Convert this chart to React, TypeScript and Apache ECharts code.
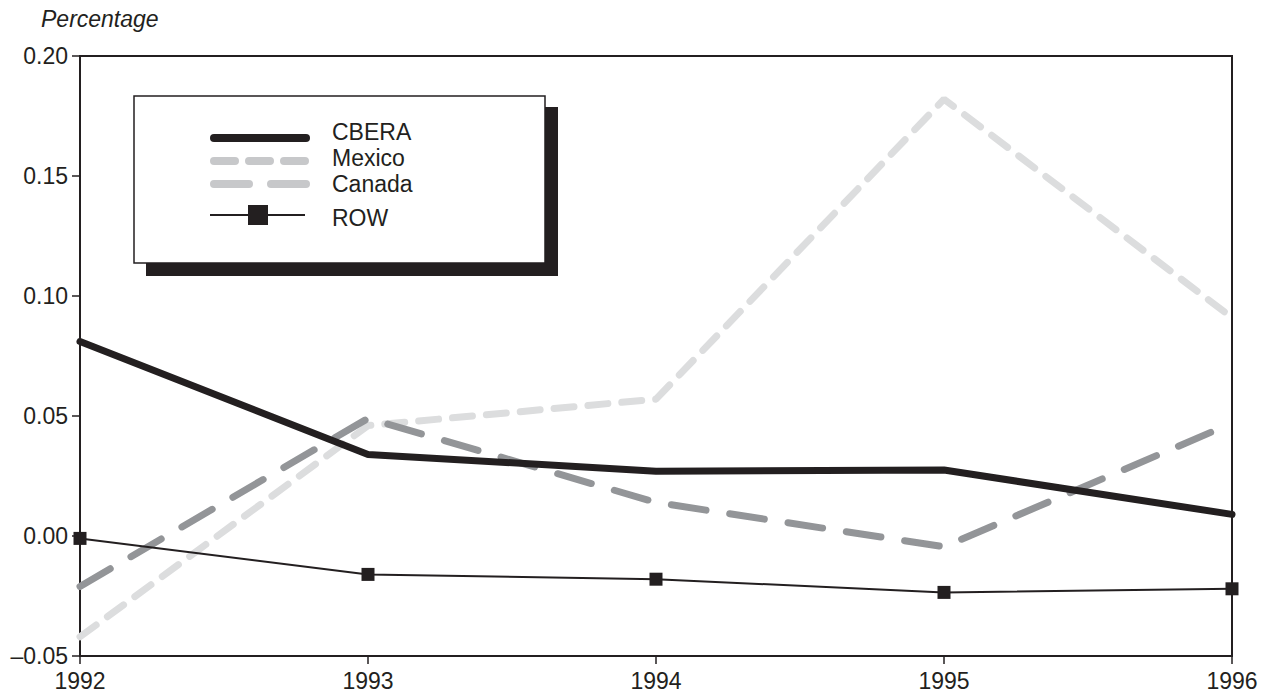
import React, { useEffect, useRef } from "react";
import * as echarts from "echarts";

const years = ["1992", "1993", "1994", "1995", "1996"];
const cbera = [0.081, 0.034, 0.027, 0.0275, 0.009];
const mexico = [-0.042, 0.046, 0.057, 0.182, 0.091];
const canada = [-0.021, 0.049, 0.014, -0.0045, 0.047];
const row = [-0.001, -0.016, -0.018, -0.0235, -0.022];
const yTicks = { min: -0.05, max: 0.2, interval: 0.05 };

const FONT = "'Liberation Sans', Arial, Helvetica, sans-serif";
const INK = "#231f20";
const LIGHT = "#dcddde";
const DARK = "#939598";
const LEG_GRAY = "#c7c8ca";
const FS = 23;

export default function App() {
  const ref = useRef<HTMLDivElement>(null);
  useEffect(() => {
    if (!ref.current) return;
    const chart = echarts.init(ref.current, undefined, { renderer: "svg" });
    const legendItems = [
      { name: "CBERA", ty: 132 },
      { name: "Mexico", ty: 158 },
      { name: "Canada", ty: 183.5 },
      { name: "ROW", ty: 218 },
    ];
    const graphic: any[] = [
      {
        type: "text",
        left: 41,
        top: 7,
        style: { text: "Percentage", font: `italic ${FS}px ${FONT}`, fill: INK },
      },
      { type: "rect", shape: { x: 146, y: 107, width: 412, height: 169 }, style: { fill: INK }, z: 10 },
      {
        type: "rect",
        shape: { x: 134, y: 96, width: 411, height: 167 },
        style: { fill: "#fff", stroke: INK, lineWidth: 1.5 },
        z: 11,
      },
      {
        type: "line",
        shape: { x1: 214, y1: 138, x2: 306, y2: 138 },
        style: { stroke: INK, lineWidth: 8, lineCap: "round" },
        z: 12,
      },
      {
        type: "line",
        shape: { x1: 214, y1: 161, x2: 306, y2: 161 },
        style: { stroke: LEG_GRAY, lineWidth: 8, lineCap: "round", lineDash: [21, 14] },
        z: 12,
      },
      {
        type: "line",
        shape: { x1: 214, y1: 184, x2: 306, y2: 184 },
        style: { stroke: LEG_GRAY, lineWidth: 8, lineCap: "round", lineDash: [35, 22] },
        z: 12,
      },
      {
        type: "line",
        shape: { x1: 210, y1: 215, x2: 305, y2: 215 },
        style: { stroke: INK, lineWidth: 2 },
        z: 12,
      },
      { type: "rect", shape: { x: 248, y: 205, width: 20, height: 20 }, style: { fill: INK }, z: 13 },
      ...legendItems.map((it) => ({
        type: "text",
        x: 332,
        y: it.ty,
        style: {
          text: it.name,
          font: `${FS}px ${FONT}`,
          fill: INK,
          textVerticalAlign: "middle",
          textAlign: "left",
        },
        z: 13,
      })),
    ];
    chart.setOption({
      animation: false,
      backgroundColor: "#fff",
      grid: {
        left: 80,
        right: 34,
        top: 56,
        bottom: 40,
        show: true,
        borderColor: INK,
        borderWidth: 2,
        backgroundColor: "transparent",
      },
      xAxis: {
        type: "category",
        data: years,
        boundaryGap: false,
        axisLine: { onZero: false, lineStyle: { color: INK, width: 2 } },
        axisTick: { show: true, length: 8, lineStyle: { color: INK, width: 1.5 } },
        axisLabel: { color: INK, fontSize: FS, fontFamily: FONT, margin: 13 },
        splitLine: { show: false },
      },
      yAxis: {
        type: "value",
        min: yTicks.min,
        max: yTicks.max,
        interval: yTicks.interval,
        axisLine: { show: true, lineStyle: { color: INK, width: 2 } },
        axisTick: { show: true, length: 8, lineStyle: { color: INK, width: 1.5 } },
        axisLabel: {
          color: INK,
          fontSize: FS,
          fontFamily: FONT,
          margin: 12,
          formatter: (v: number) => (v < 0 ? "\u2013" + Math.abs(v).toFixed(2) : v.toFixed(2)),
        },
        splitLine: { show: false },
      },
      series: [
        {
          name: "ROW",
          type: "line",
          data: row,
          symbol: "rect",
          symbolSize: 13,
          itemStyle: { color: INK },
          lineStyle: { color: INK, width: 2 },
          z: 5,
        },
        {
          name: "Mexico",
          type: "line",
          data: mexico,
          symbol: "none",
          lineStyle: { color: LIGHT, width: 7, type: [20, 14], cap: "round" },
          z: 2,
        },
        {
          name: "Canada",
          type: "line",
          data: canada,
          symbol: "none",
          lineStyle: { color: DARK, width: 7, type: [35, 24], cap: "round" },
          z: 3,
        },
        {
          name: "CBERA",
          type: "line",
          data: cbera,
          symbol: "none",
          lineStyle: { color: INK, width: 7, cap: "round" },
          z: 4,
        },
      ],
      graphic,
    });
    return () => chart.dispose();
  }, []);
  return <div ref={ref} style={{ width: 1266, height: 696, position: "absolute", left: 0, top: 0 }} />;
}
